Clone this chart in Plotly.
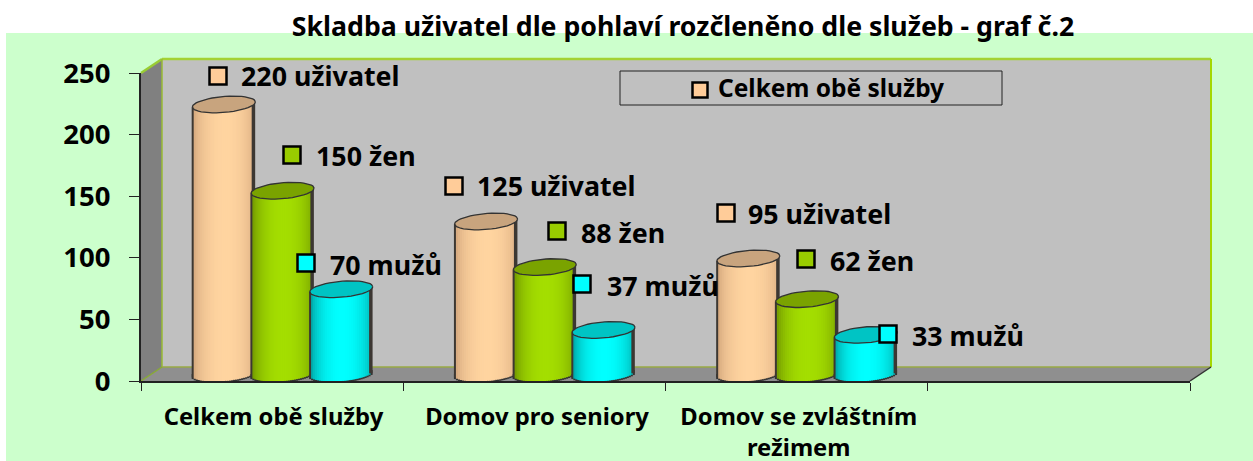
import math
import plotly.graph_objects as go

# ---- data ----
categories = ["Celkem obě služby", "Domov pro seniory", "Domov se zvláštním<br>režimem", ""]
total_users = [220, 125, 95]
women = [150, 88, 62]
men = [70, 37, 33]
y_ticks = [0, 50, 100, 150, 200, 250]
title_text = "Skladba uživatel dle pohlaví rozčleněno dle služeb - graf č.2"
legend_text = "Celkem obě služby"

W, H = 1253, 461
L, R, T, B = 141, 1190, 73, 381
DX, DY = 21, 14
FONT = "Noto Sans"
PXX = (R - L) / 4
PXY = (B - T) / 250

px2x = lambda px: (px - L) / PXX - 0.5
px2y = lambda py: (B - py) / PXY
px2px = lambda px: (px - L) / (R - L)
px2py = lambda py: (B - py) / (B - T)

series = [
    dict(name="uživatel", vals=total_users, off=-1, edge=(205, 160, 120), mid=(255, 212, 160), top="#C8A47E",
         mk="#FFCC99", pos=[(218, 76), (454, 186), (726, 213)], tx=[241, 477, 748], ty=[79, 189, 217]),
    dict(name="žen", vals=women, off=0, edge=(105, 140, 0), mid=(164, 222, 0), top="#7AA300",
         mk="#99CC00", pos=[(292, 155), (557, 231), (806, 259)], tx=[316, 581, 830], ty=[159, 236, 264]),
    dict(name="mužů", vals=men, off=1, edge=(0, 150, 150), mid=(0, 255, 255), top="#00C4C4",
         mk="#00FFFF", pos=[(306, 263), (582, 284), (888, 334)], tx=[330, 607, 912], ty=[268, 289, 339]),
]

STEP = 58.7   # px between neighbouring cylinders
RX, RY = 31.5, 8.0
SLOPE = 0.08
STRIP = 2.0
FLOOR_LIFT = 8.0   # px: base ellipse centre above the axis line
TOP_LIFT = 5.5     # px: top ellipse centre, lift of the value scale
SHIFT = 10.5       # px


def lerp(a, b, t):
    return tuple(round(a[i] + (b[i] - a[i]) * t) for i in range(3))


fig = go.Figure()
n = int(2 * RX / STRIP)
for s in series:
    xs, bases, heights, cols, dbases = [], [], [], [], []
    for c, v in enumerate(s["vals"]):
        cx = L + PXX * (c + 0.5) + SHIFT + s["off"] * STEP
        for k in range(n):
            dxp = -RX + STRIP * (k + 0.5)
            u = dxp / RX
            cur = RY * math.sqrt(max(0, 1 - u * u))
            tilt = -SLOPE * dxp
            y_bot_px = B - FLOOR_LIFT + cur + tilt
            y_top_px = B - TOP_LIFT - v * PXY + tilt
            xs.append(px2x(cx + dxp))
            bases.append(px2y(y_bot_px))
            heights.append((y_bot_px - y_top_px) / PXY)
            dbases.append(px2y(y_bot_px + 1.6))
            shade = max(0.0, 1 - ((u - 0.05) ** 2)) ** 0.6
            col = lerp(s["edge"], s["mid"], shade)
            if k == 0 or k == n - 1:
                col = (60, 55, 50)
            cols.append("rgb(%d,%d,%d)" % col)
    fig.add_bar(x=xs, y=[5 / PXY] * len(xs), base=dbases, width=(STRIP + 1.5) / PXX,
                marker=dict(color="#333333", line_width=0), showlegend=False, hoverinfo="skip")
    fig.add_bar(x=xs, y=heights, base=bases, width=(STRIP + 1.5) / PXX,
                marker=dict(color=cols, line_width=0), showlegend=False, hoverinfo="skip")

# cylinder tops
for s in series:
    for c, v in enumerate(s["vals"]):
        cx = L + PXX * (c + 0.5) + SHIFT + s["off"] * STEP
        ex, ey = [], []
        for a in range(0, 361, 8):
            dxp = RX * math.cos(math.radians(a))
            dyp = RY * math.sin(math.radians(a)) - SLOPE * dxp
            ex.append(px2x(cx + dxp))
            ey.append(px2y(B - TOP_LIFT - v * PXY + dyp))
        fig.add_scatter(x=ex, y=ey, mode="lines", fill="toself", fillcolor=s["top"],
                        line=dict(color="#333333", width=1.3), showlegend=False, hoverinfo="skip")

# data labels with their square keys
for s in series:
    fig.add_scatter(x=[px2x(p[0]) for p in s["pos"]], y=[px2y(p[1]) for p in s["pos"]], mode="markers",
                    marker=dict(symbol="square", size=17, color=s["mk"], line=dict(color="black", width=2.5)),
                    showlegend=False, hoverinfo="skip", cliponaxis=False)
    fig.add_scatter(x=[px2x(p) for p in s["tx"]], y=[px2y(p) for p in s["ty"]], mode="text",
                    text=[f"{v} {s['name']}" for v in s["vals"]], textposition="middle right",
                    textfont=dict(family=FONT, size=26.8, color="black", weight="bold"),
                    showlegend=False, hoverinfo="skip", cliponaxis=False)

# legend-like box contents
fig.add_scatter(x=[px2x(700)], y=[px2y(90)], mode="markers",
                marker=dict(symbol="square", size=15, color="#FFCC99", line=dict(color="black", width=2.5)),
                showlegend=False, hoverinfo="skip")
fig.add_scatter(x=[px2x(718)], y=[px2y(91)], mode="text", text=[legend_text], textposition="middle right",
                textfont=dict(family=FONT, size=24.5, color="black", weight="bold"), showlegend=False, hoverinfo="skip")


def poly(pts):
    return "M" + "L".join(f"{px2px(a):.5f},{px2py(b):.5f}" for a, b in pts) + "Z"


def sh(pts, fill=None, line=None, lw=0):
    return dict(type="path", xref="paper", yref="paper", path=poly(pts), fillcolor=fill or "rgba(0,0,0,0)",
                line=dict(color=line or "rgba(0,0,0,0)", width=lw), layer="below")


def seg(a, b, color, lw):
    return dict(type="line", xref="paper", yref="paper", x0=px2px(a[0]), y0=px2py(a[1]), x1=px2px(b[0]), y1=px2py(b[1]),
                line=dict(color=color, width=lw), layer="below")


BL, TP = L + DX, T - DY
shapes = [
    sh([(6, 33), (W, 33), (W, H), (6, H)], fill="#CCFFCC"),
    sh([(BL, TP), (R + DX, TP), (R + DX, B - DY), (BL, B - DY)], fill="#C0C0C0"),
    sh([(L, T), (BL, TP), (BL, B - DY), (L, B)], fill="#808080"),
    sh([(L, B), (BL, B - DY), (R + DX, B - DY), (R, B)], fill="#8F8F8F"),
    seg((L, T), (BL, TP), "#99CC33", 2.5),
    seg((BL, TP), (R + DX, TP), "#A4D233", 2.5),
    seg((R + DX, TP), (R + DX, B - DY), "#A4D800", 2),
    seg((BL, TP), (BL, B - DY), "#99BB33", 1.5),
    seg((BL, B - DY), (R + DX, B - DY), "#99AA44", 1.5),
    seg((L, B), (BL, B - DY), "#88AA33", 1.5),
    seg((R, B), (R + DX, B - DY), "#333333", 1.5),
    dict(type="rect", xref="paper", yref="paper", x0=px2px(620), x1=px2px(1002), y0=px2py(105), y1=px2py(71),
         fillcolor="#C0C0C0", line=dict(color="#222222", width=1), layer="below"),
]

fig.update_layout(
    width=W, height=H, autosize=False,
    margin=dict(l=L, r=W - R, t=T, b=H - B, pad=0),
    paper_bgcolor="white", plot_bgcolor="rgba(0,0,0,0)",
    barmode="overlay", shapes=shapes, showlegend=False,
    title=dict(text=title_text, x=683 / W, xanchor="center", y=1 - 27 / H, yanchor="middle",
               font=dict(family=FONT, size=26.7, color="black", weight="bold")),
    font=dict(family=FONT, color="black"),
    xaxis=dict(range=[-0.5, 3.5], tickmode="array", tickvals=[0.005, 1.01, 2.008, 3], ticktext=categories,
               automargin=False,
               ticks="", showgrid=False, zeroline=False, showline=True, linecolor="#222222", linewidth=2,
               tickfont=dict(family=FONT, size=23.8, color="black", weight="bold"), ticklabelstandoff=13,
               minor=dict(tickmode="array", tickvals=[-0.5, 0.5, 1.5, 2.5, 3.5], ticks="outside", ticklen=8,
                          tickwidth=1, tickcolor="#222222", showgrid=False)),
    yaxis=dict(range=[0, 250], tickmode="array", tickvals=y_ticks, ticks="outside", ticklen=10, tickwidth=1,
               automargin=False,
               tickcolor="#222222", showgrid=False, zeroline=False, showline=True, linecolor="#222222", linewidth=2,
               tickfont=dict(family=FONT, size=27.5, color="black", weight="bold"), ticklabelstandoff=13),
)

fig.write_html("out.html", config=dict(displayModeBar=False),
               post_script="document.body.style.margin='0';document.body.style.overflow='hidden';")
